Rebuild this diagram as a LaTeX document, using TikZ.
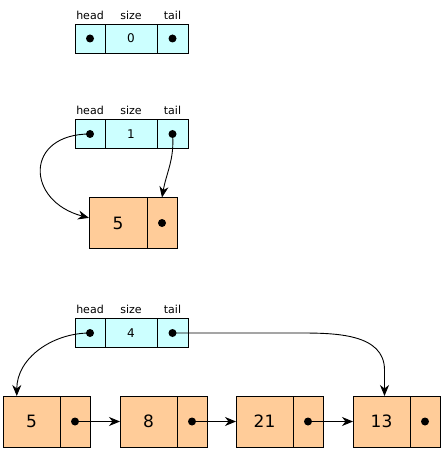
\documentclass[tikz,border=0pt]{standalone}
\usepackage{fontspec}
\setsansfont{DejaVu Sans}
\usepackage{tikz}
\usetikzlibrary{positioning, calc, arrows.meta}

\definecolor{hdrcyan}{RGB}{204,255,255}
\definecolor{cellorange}{RGB}{255,204,153}

\begin{document}
\begin{tikzpicture}[x=1pt, y=1pt, font=\sffamily, line width=0.9pt, >={Stealth[length=11pt, width=9pt, inset=3.5pt]}]
    \tikzstyle{hcell}=[rectangle, draw, fill=hdrcyan, minimum height=29pt, inner sep=0pt, outer sep=0pt, font=\sffamily\fontsize{12}{14}\selectfont]
    \tikzstyle{lcell}=[rectangle, draw, fill=cellorange, minimum height=51pt, inner sep=0pt, outer sep=0pt, font=\sffamily\fontsize{17}{20}\selectfont]
    \tikzstyle{lbl}=[inner sep=1pt, font=\sffamily\fontsize{11}{13}\selectfont]
    \tikzstyle{dot}=[circle, fill=black, inner sep=0pt, minimum size=8pt]
    \useasboundingbox (0,0) rectangle (442,-449);
    % empty list
    \node[hcell, minimum width=30pt] (head1) at (90,-38.5) {};
    \node[hcell, minimum width=52pt, right=0pt of head1] (size1) {0};
    \node[hcell, minimum width=31pt, right=0pt of size1] (tail1) {};
    \node[lbl, above=3pt of head1] (lhead1) {head};
    \node[lbl, above=3pt of size1] (lsize1) {size};
    \node[lbl, above=3pt of tail1] (ltail1) {tail};
    \node[dot] (hd1) at (head1) {};
    \node[dot] (td1) at (tail1) {};
    % one element
    \node[hcell, minimum width=30pt] (head2) at (90,-134) {};
    \node[hcell, minimum width=52pt, right=0pt of head2] (size2) {1};
    \node[hcell, minimum width=31pt, right=0pt of size2] (tail2) {};
    \node[lbl, above=3pt of head2] (lhead2) {head};
    \node[lbl, above=3pt of size2] (lsize2) {size};
    \node[lbl, above=3pt of tail2] (ltail2) {tail};
    \node[dot] (hd2) at (head2) {};
    \node[dot] (td2) at (tail2) {};
    \node[lcell, minimum width=58pt] (vone) at (118,-223) {5};
    \node[lcell, minimum width=30pt, right=0pt of vone] (pone) {};
    \node[dot] (done) at (pone) {};
    \draw[->] (hd2.center) to[out=180, in=165, looseness=2] (vone.170);
    \draw[->] (td2.center) to[out=-85, in=80] (pone.north);
    % four elements
    \node[hcell, minimum width=30pt] (head3) at (90,-333) {};
    \node[hcell, minimum width=52pt, right=0pt of head3] (size3) {4};
    \node[hcell, minimum width=31pt, right=0pt of size3] (tail3) {};
    \node[lbl, above=3pt of head3] (lhead3) {head};
    \node[lbl, above=3pt of size3] (lsize3) {size};
    \node[lbl, above=3pt of tail3] (ltail3) {tail};
    \node[dot] (hd3) at (head3) {};
    \node[dot] (td3) at (tail3) {};
    \node[lcell, minimum width=57pt] (v5) at (31.5,-421.5) {5};
    \node[lcell, minimum width=30pt, right=0pt of v5] (p5) {};
    \node[lcell, minimum width=57pt, right=30pt of p5] (v8) {8};
    \node[lcell, minimum width=30pt, right=0pt of v8] (p8) {};
    \node[lcell, minimum width=57pt, right=29pt of p8] (v21) {21};
    \node[lcell, minimum width=30pt, right=0pt of v21] (p21) {};
    \node[lcell, minimum width=57pt, right=30pt of p21] (v13) {13};
    \node[lcell, minimum width=30pt, right=0pt of v13] (p13) {};
    \node[dot] (d5) at (p5) {};
    \node[dot] (d8) at (p8) {};
    \node[dot] (d21) at (p21) {};
    \node[dot] (d13) at (p13) {};
    \coordinate (bend) at ($(v13.north)+(3,26)$);
    \draw[->] (hd3.center) to[out=180, in=90] (v5.120);
    \draw[->] (td3.center) -- ++(127,0) to[out=0, in=90] (bend) -- ([xshift=3pt]v13.north);
    \draw[->] (d5.center) -- (v8.west);
    \draw[->] (d8.center) -- (v21.west);
    \draw[->] (d21.center) -- (v13.west);
  \end{tikzpicture}
\end{document}
